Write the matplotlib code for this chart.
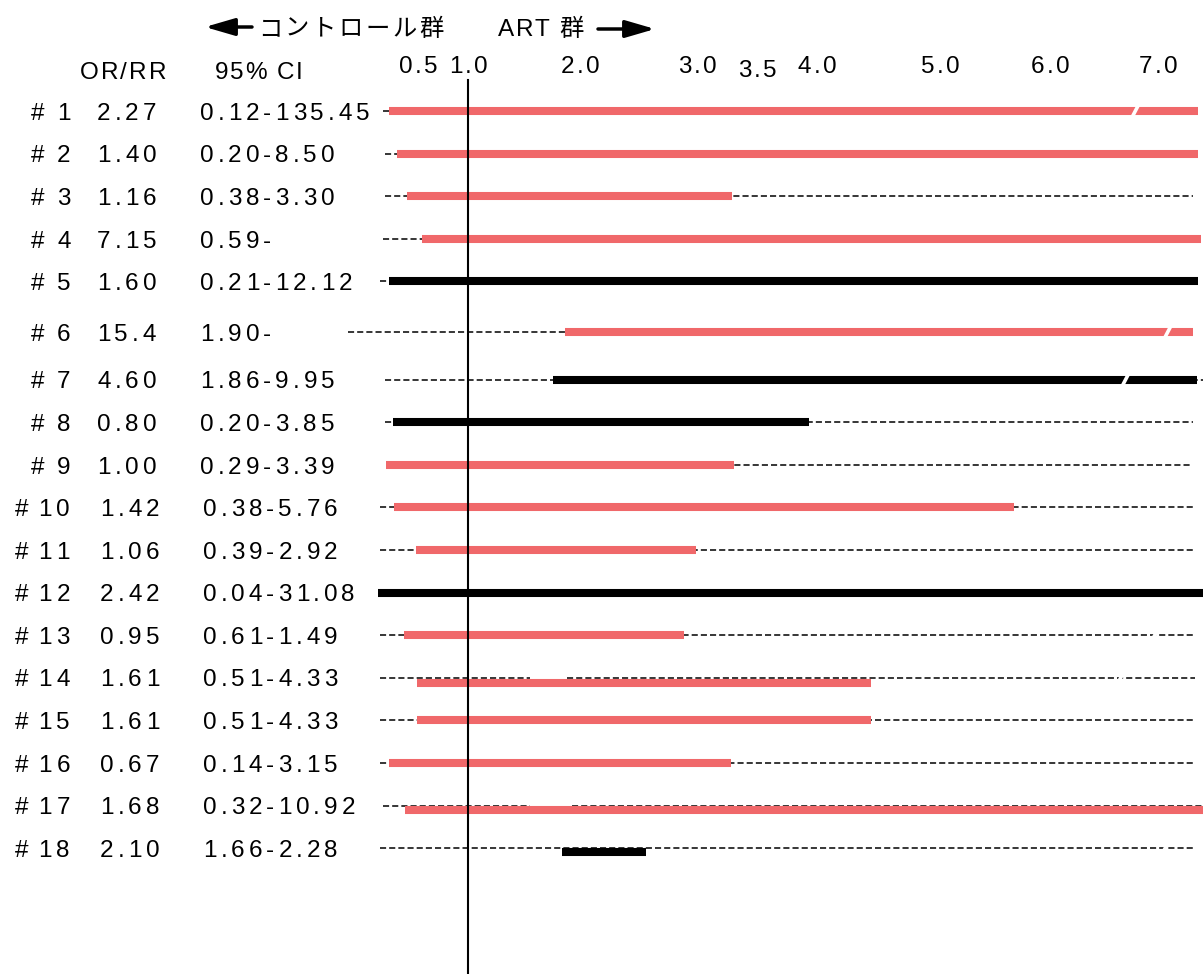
import numpy as np
import matplotlib
matplotlib.use('Agg')
import matplotlib.pyplot as plt
from matplotlib import font_manager, transforms
from matplotlib.font_manager import FontProperties
from matplotlib.ft2font import FT2Font

# ---- data ----
study_ids = list(range(1, 19))
or_text = ['2.27', '1.40', '1.16', '7.15', '1.60', '15.4', '4.60', '0.80', '1.00',
           '1.42', '1.06', '2.42', '0.95', '1.61', '1.61', '0.67', '1.68', '2.10']
ci_text = ['0.12-135.45', '0.20-8.50', '0.38-3.30', '0.59-', '0.21-12.12', '1.90-',
           '1.86-9.95', '0.20-3.85', '0.29-3.39', '0.38-5.76', '0.39-2.92', '0.04-31.08',
           '0.61-1.49', '0.51-4.33', '0.51-4.33', '0.14-3.15', '0.32-10.92', '1.66-2.28']
# bars as they are drawn (x axis values)
bar_lo = [0.21, 0.29, 0.39, 0.54, 0.21, 1.87, 1.76, 0.25, 0.18,
          0.26, 0.48, 0.10, 0.36, 0.49, 0.49, 0.21, 0.37, 1.84]
bar_hi = [7.37, 7.37, 3.29, 7.40, 7.37, 7.32, 7.36, 3.93, 3.31,
          5.67, 2.99, 7.42, 2.89, 4.44, 4.44, 3.28, 7.45, 2.56]
black_rows = [5, 7, 8, 12, 18]
# dashed guide segments per study
dash_segs = [[(0.15, 7.32)], [(0.17, 7.32)], [(0.17, 7.32)], [(0.15, 7.32)], [(0.12, 7.32)],
             [(-0.20, 7.32)], [(0.17, 7.42)], [(0.17, 7.32)], [(0.18, 7.30)],
             [(0.12, 7.32)], [(0.12, 7.32)], [(0.10, 7.32)], [(0.12, 7.34)],
             [(0.12, 1.55), (1.88, 7.34)], [(0.12, 7.34)], [(0.12, 7.34)],
             [(0.15, 1.55), (1.93, 7.45)], [(0.12, 7.34)]]
# break marks (study, x)
breaks = [(1, 6.79), (6, 7.09), (7, 6.70), (13, 6.97), (14, 6.63), (18, 7.05)]

tick_vals = [0.5, 1.0, 2.0, 3.0, 3.5, 4.0, 5.0, 6.0, 7.0]
tick_labels = ['0.5', '1.0', '2.0', '3.0', '3.5', '4.0', '5.0', '6.0', '7.0']

RED = '#f0686a'
W, H, DPI = 1203, 974, 100

# uneven axis as drawn in the original
knot_vals = [-1.0, 0.5, 1.0, 2.0, 3.0, 3.5, 4.0, 5.0, 6.0, 7.0, 8.0]
knot_px = [268, 418, 468, 580, 697, 757, 817, 940, 1050, 1158, 1266]


def fwd(v):
    return np.interp(v, knot_vals, knot_px)


def inv(p):
    return np.interp(p, knot_px, knot_vals)


fig = plt.figure(figsize=(W / DPI, H / DPI), dpi=DPI)
ax = fig.add_axes([338 / W, 0, 1 - 338 / W, 1])
ax.set_xscale('function', functions=(fwd, inv))
ax.set_xlim(inv(338), inv(1203))
ax.set_ylim(20.26, -2.606)
ax.axis('off')

idx = np.arange(18)
row_y = idx + np.where(idx >= 5, 0.19, 0) + np.where(idx >= 6, 0.115, 0)
bar_dy = {14: 0.12, 17: 0.1, 18: 0.08}

LATIN = font_manager.findfont(FontProperties(family='Liberation Sans'))
CJK = font_manager.findfont(FontProperties(family='Noto Sans CJK JP'))
_fonts = {}


def advance(ch, size):
    path = CJK if ord(ch) > 0x2E80 else LATIN
    if (path, size) not in _fonts:
        f = FT2Font(path)
        f.set_size(size, DPI)
        _fonts[(path, size)] = f
    g = _fonts[(path, size)].load_char(ord(ch))
    return g.linearHoriAdvance / 65536


def tracked(x, y, s, trans, size=17.5, track=4, ha='left'):
    # letter-spaced text, one glyph at a time
    advs = [advance(ch, size) for ch in s]
    total = sum(advs) + track * (len(s) - 1)
    off = 0 if ha == 'left' else -total / 2
    for ch, a in zip(s, advs):
        if ch != ' ':
            fam = 'Noto Sans CJK JP' if ord(ch) > 0x2E80 else 'Liberation Sans'
            t = trans + transforms.ScaledTranslation(off / DPI, -0.36 * size / 72,
                                                     fig.dpi_scale_trans)
            fig.text(x, y, ch, transform=t, family=fam, size=size,
                     va='baseline', ha='left')
        off += a + track


# dashed guides
for i, segs in enumerate(dash_segs):
    for lo, hi in segs:
        ax.plot([lo, hi], [row_y[i], row_y[i]], color='k', lw=1.1,
                linestyle=(0, (4, 2)), dash_capstyle='butt')

# bars
for i in range(18):
    c = 'k' if study_ids[i] in black_rows else RED
    y = row_y[i] + bar_dy.get(study_ids[i], 0)
    ax.plot([bar_lo[i], bar_hi[i]], [y, y], color=c, lw=5.8,
            solid_capstyle='butt', clip_on=False)

# break marks
for sid, xb in breaks:
    y = row_y[sid - 1] + bar_dy.get(sid, 0)
    ax.plot([xb - 0.035, xb + 0.035], [y + 0.17, y - 0.17], color='white',
            lw=2.6, solid_capstyle='butt')

# reference line at 1.0
ax.axvline(1.0, ymin=0, ymax=1 - 80 / H, color='k', lw=1.5)

# top scale labels
for v, lab in zip(tick_vals, tick_labels):
    yy = -1.01 if lab == '3.5' else -1.10
    tracked(v, yy, lab, ax.transData, size=17.5, track=2.5, ha='center')

# left columns
fy = transforms.blended_transform_factory(fig.transFigure, ax.transData)
for i in range(18):
    if study_ids[i] < 10:
        xs = (31, 57, 97, 200)
    else:
        xs = (15, 38, 100, 203)
    tracked(xs[0] / W, row_y[i], '#', fy)
    tracked(xs[1] / W, row_y[i], str(study_ids[i]), fy, track=5)
    tracked(xs[2] / W, row_y[i], or_text[i], fy)
    tracked(xs[3] / W, row_y[i], ci_text[i], fy)

# header
tracked(80 / W, 1 - 70 / H, 'OR/RR', fig.transFigure, track=2)
tracked(215 / W, 1 - 70 / H, '95% CI', fig.transFigure, track=1.5)
tracked(258 / W, 1 - 27 / H, 'コントロール群', fig.transFigure, track=2.5)
tracked(498 / W, 1 - 27 / H, 'ART 群', fig.transFigure, track=1.5)

arrow = dict(arrowstyle='-|>,head_length=1.2,head_width=0.35', color='k', lw=2.5,
             mutation_scale=15, shrinkA=0, shrinkB=0)
ax.annotate('', xy=(205 / W, 1 - 27 / H), xytext=(252 / W, 1 - 27 / H),
            xycoords='figure fraction', arrowprops=arrow)
ax.annotate('', xy=(655 / W, 1 - 29 / H), xytext=(598 / W, 1 - 29 / H),
            xycoords='figure fraction', arrowprops=arrow)

fig.savefig('out.png', dpi=DPI)
